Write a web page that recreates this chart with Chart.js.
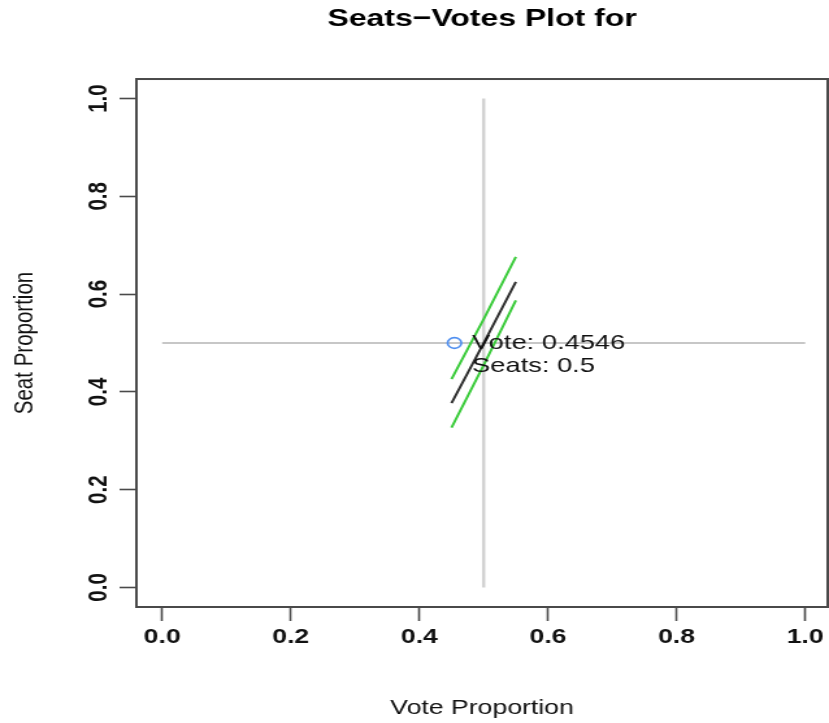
<!DOCTYPE html>
<html>
<head>
<meta charset="utf-8">
<script src="https://cdn.jsdelivr.net/npm/chart.js@4/dist/chart.umd.min.js"></script>
<style>
  html, body { margin: 0; padding: 0; background: #ffffff; overflow: hidden; }
  #sv { display: block; }
</style>
</head>
<body>
<canvas id="sv" width="638" height="723" style="width:829px;height:723px;"></canvas>
<script>
// Seats-votes curve: vote share grid and the seat share it yields,
// with the upper and lower bands around the central estimate.
const voteGrid    = [0.45, 0.50, 0.55];
const seatsMedian = [0.377, 0.500, 0.625];
const seatsUpper  = [0.426, 0.549, 0.676];
const seatsLower  = [0.327, 0.455, 0.587];

// Observed election result.
const observedVote  = 0.4546;
const observedSeats = 0.5;

// Reference lines at 50% votes and 50% seats.
const refVoteLineX = [0.5, 0.5];
const refVoteLineY = [0.0, 1.0];
const refSeatLineX = [0.0, 1.0];
const refSeatLineY = [0.5, 0.5];

// Axis ticks.
const tickValues = [0, 0.2, 0.4, 0.6, 0.8, 1.0];
const tickLabels = ['0.0', '0.2', '0.4', '0.6', '0.8', '1.0'];

const FONT = '"Liberation Sans", Arial, Helvetica, sans-serif';
const TEXT_COLOR = '#111111';

const toPoints = (xs, ys) => xs.map((x, i) => ({ x: x, y: ys[i] }));

// Frame around the plotting region.
const boxPlugin = {
  id: 'plotBox',
  afterDraw(chart) {
    const { ctx, chartArea: a } = chart;
    ctx.save();
    ctx.strokeStyle = '#4a4a4a';
    ctx.lineWidth = 2;
    ctx.strokeRect(a.left, a.top, a.right - a.left, a.bottom - a.top);
    ctx.restore();
  }
};

// Y tick labels written parallel to the axis.
const yLabelPlugin = {
  id: 'yLabels',
  afterDraw(chart) {
    const { ctx } = chart;
    const ys = chart.scales.y;
    ctx.save();
    ctx.fillStyle = TEXT_COLOR;
    ctx.font = 'bold 20.5px ' + FONT;
    ctx.textAlign = 'center';
    ctx.textBaseline = 'middle';
    tickValues.forEach((v, i) => {
      ctx.save();
      ctx.translate(76.5, ys.getPixelForValue(v));
      ctx.rotate(-Math.PI / 2);
      ctx.fillText(tickLabels[i], 0, 0);
      ctx.restore();
    });
    ctx.restore();
  }
};

// Text next to the observed result marker.
const resultLabelPlugin = {
  id: 'resultLabel',
  afterDatasetsDraw(chart) {
    const meta = chart.getDatasetMeta(5);
    const pt = meta.data[0];
    if (!pt) return;
    const { ctx } = chart;
    ctx.save();
    ctx.fillStyle = TEXT_COLOR;
    ctx.font = '21px ' + FONT;
    ctx.textAlign = 'left';
    ctx.textBaseline = 'middle';
    ctx.fillText('Vote: ' + observedVote, pt.x + 13.5, pt.y);
    ctx.fillText('Seats: ' + observedSeats, pt.x + 13.5, pt.y + 23);
    ctx.restore();
  }
};

const fixedTicks = (scale) => {
  scale.ticks = tickValues.map(v => ({ value: v }));
};

new Chart(document.getElementById('sv'), {
  type: 'scatter',
  data: {
    datasets: [
      {
        label: 'vote 0.5',
        data: toPoints(refVoteLineX, refVoteLineY),
        showLine: true, pointRadius: 0,
        borderColor: '#d2d2d2', borderWidth: 2.4, order: 6
      },
      {
        label: 'seats 0.5',
        data: toPoints(refSeatLineX, refSeatLineY),
        showLine: true, pointRadius: 0,
        borderColor: '#b4b4b4', borderWidth: 1.5, order: 5
      },
      {
        label: 'upper',
        data: toPoints(voteGrid, seatsUpper),
        showLine: true, pointRadius: 0, tension: 0,
        borderColor: '#3acb3a', borderWidth: 2, order: 4
      },
      {
        label: 'lower',
        data: toPoints(voteGrid, seatsLower),
        showLine: true, pointRadius: 0, tension: 0,
        borderColor: '#3acb3a', borderWidth: 2, order: 3
      },
      {
        label: 'median',
        data: toPoints(voteGrid, seatsMedian),
        showLine: true, pointRadius: 0, tension: 0,
        borderColor: '#2e2e2e', borderWidth: 2, order: 2
      },
      {
        label: 'observed',
        data: [{ x: observedVote, y: observedSeats }],
        pointRadius: 5.3, pointBorderWidth: 1.7,
        pointBackgroundColor: 'rgba(0,0,0,0)',
        pointBorderColor: '#4f8ff0', order: 1
      }
    ]
  },
  options: {
    responsive: false,
    maintainAspectRatio: false,
    devicePixelRatio: 1,
    animation: false,
    events: [],
    layout: { autoPadding: false, padding: { left: 0, right: 1, top: 0, bottom: 0 } },
    plugins: {
      legend: { display: false },
      tooltip: { enabled: false },
      title: {
        display: true,
        text: 'Seats\u2212Votes Plot for',
        fullSize: false,
        color: '#000000',
        font: { family: FONT, size: 24.6, weight: 'bold', lineHeight: 1.2 },
        padding: { top: 4.5, bottom: 45 }
      }
    },
    scales: {
      x: {
        type: 'linear',
        position: 'bottom',
        min: -0.04,
        max: 1.035,
        afterBuildTicks: fixedTicks,
        afterFit(scale) {
          scale.height = 116;
          scale.paddingLeft = 0;
          scale.paddingRight = 0;
        },
        border: { display: false },
        grid: {
          drawOnChartArea: false, drawTicks: true,
          tickLength: 14, tickWidth: 1.6, tickColor: '#4a4a4a'
        },
        ticks: {
          autoSkip: false, maxRotation: 0, padding: 4.5,
          color: TEXT_COLOR,
          font: { family: FONT, size: 20.5, weight: 'bold' },
          callback: (v, i) => tickLabels[i]
        },
        title: {
          display: true, text: 'Vote Proportion', color: TEXT_COLOR,
          font: { family: FONT, size: 20.5, lineHeight: 1.2 },
          padding: { top: 0, bottom: 2.2 }
        }
      },
      y: {
        type: 'linear',
        position: 'left',
        min: -0.04,
        max: 1.04,
        afterBuildTicks: fixedTicks,
        afterFit(scale) {
          scale.width = 105;
          scale.paddingTop = 0;
          scale.paddingBottom = 0;
        },
        border: { display: false },
        grid: {
          drawOnChartArea: false, drawTicks: true,
          tickLength: 13, tickWidth: 1.6, tickColor: '#4a4a4a'
        },
        ticks: { display: false },
        title: {
          display: true, text: 'Seat Proportion', color: TEXT_COLOR,
          font: { family: FONT, size: 20.5, lineHeight: 1.2 },
          padding: { top: 6.8, bottom: 0 }
        }
      }
    }
  },
  plugins: [boxPlugin, yLabelPlugin, resultLabelPlugin]
});
</script>
</body>
</html>
